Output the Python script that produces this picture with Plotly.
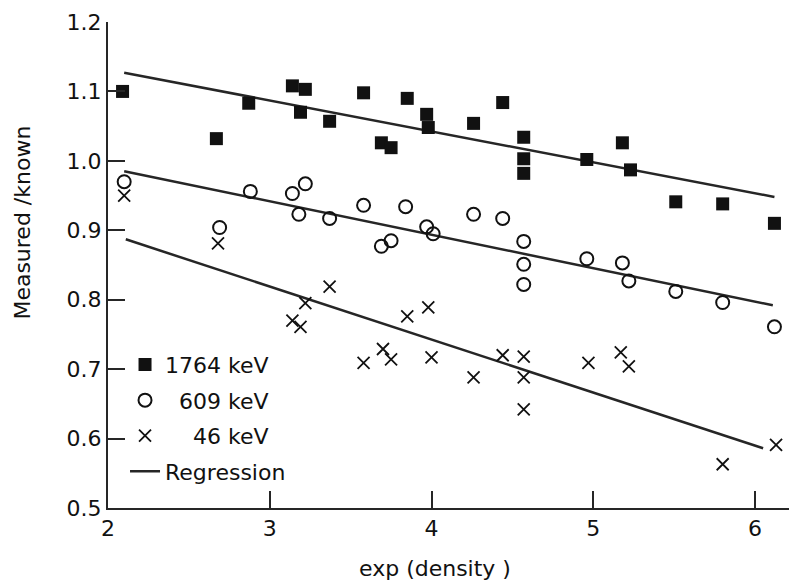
import plotly.graph_objects as go

# ---- data ----
x_1764 = [2.09, 2.67, 2.87, 3.14, 3.19, 3.22, 3.37, 3.58, 3.69, 3.75, 3.85, 3.97, 3.98,
          4.26, 4.44, 4.57, 4.57, 4.57, 4.96, 5.18, 5.23, 5.51, 5.80, 6.12]
y_1764 = [1.100, 1.032, 1.083, 1.108, 1.070, 1.103, 1.057, 1.098, 1.026, 1.019, 1.090, 1.067, 1.048,
          1.054, 1.084, 1.034, 1.003, 0.982, 1.002, 1.026, 0.987, 0.941, 0.938, 0.910]

x_609 = [2.10, 2.69, 2.88, 3.14, 3.18, 3.22, 3.37, 3.58, 3.69, 3.75, 3.84, 3.97, 4.01,
         4.26, 4.44, 4.57, 4.57, 4.57, 4.96, 5.18, 5.22, 5.51, 5.80, 6.12]
y_609 = [0.970, 0.904, 0.956, 0.953, 0.923, 0.967, 0.917, 0.936, 0.877, 0.885, 0.934, 0.905, 0.895,
         0.923, 0.917, 0.884, 0.851, 0.822, 0.859, 0.853, 0.827, 0.812, 0.796, 0.761]

x_46 = [2.10, 2.68, 3.14, 3.19, 3.22, 3.37, 3.58, 3.70, 3.75, 3.85, 3.98, 4.00,
        4.26, 4.44, 4.57, 4.57, 4.57, 4.97, 5.17, 5.22, 5.80, 6.13]
y_46 = [0.950, 0.881, 0.770, 0.761, 0.795, 0.819, 0.709, 0.729, 0.714, 0.776, 0.789, 0.717,
        0.688, 0.720, 0.718, 0.688, 0.642, 0.709, 0.724, 0.704, 0.563, 0.591]

# regression line end points
reg_1764_x = [2.10, 6.12]
reg_1764_y = [1.127, 0.948]
reg_609_x = [2.10, 6.11]
reg_609_y = [0.985, 0.792]
reg_46_x = [2.11, 6.05]
reg_46_y = [0.887, 0.586]

x_ticks = [2, 3, 4, 5, 6]
y_ticks = [0.5, 0.6, 0.7, 0.8, 0.9, 1.0, 1.1, 1.2]

FONT = "DejaVu Sans"
INK = "#111111"
LINE = "#262626"

fig = go.Figure()

for rx, ry in [(reg_1764_x, reg_1764_y), (reg_609_x, reg_609_y), (reg_46_x, reg_46_y)]:
    fig.add_trace(go.Scatter(x=rx, y=ry, mode="lines", line=dict(color=LINE, width=2.5),
                             showlegend=False, hoverinfo="skip"))

fig.add_trace(go.Scatter(x=x_1764, y=y_1764, mode="markers", name="1764 keV", legendgroup="a",
                         marker=dict(symbol="square", size=13, color=INK)))
fig.add_trace(go.Scatter(x=x_609, y=y_609, mode="markers", name="\u2007609 keV", legendgroup="b",
                         marker=dict(symbol="circle-open", size=13, color=INK,
                                     line=dict(width=2, color=INK))))
fig.add_trace(go.Scatter(x=x_46, y=y_46, mode="markers", name="\u2007\u200746 keV", legendgroup="c",
                         marker=dict(symbol="x-thin-open", size=12, color=INK,
                                     line=dict(width=1.8, color=INK))))
# legend entry for regression lines
fig.add_trace(go.Scatter(x=[None], y=[None], mode="lines", name="Regression", legendgroup="d",
                         line=dict(color=LINE, width=2.5)))

fig.update_layout(
    width=789, height=584,
    margin=dict(l=108, r=0, t=22, b=76),
    paper_bgcolor="white", plot_bgcolor="white",
    font=dict(family=FONT, size=22, color=INK),
    showlegend=True,
    legend=dict(x=0.025, xanchor="left", y=0.338, yanchor="top",
                bgcolor="rgba(0,0,0,0)", borderwidth=0,
                font=dict(family=FONT, size=22, color=INK),
                itemwidth=30, tracegroupgap=4),
    xaxis=dict(range=[2, 6.21], tickvals=x_ticks, ticktext=[str(v) for v in x_ticks],
               showgrid=False, zeroline=False, showline=True, linecolor=LINE, linewidth=2,
               ticks="inside", ticklen=17, tickwidth=1.8, tickcolor=LINE,
               tickfont=dict(family=FONT, size=22, color=INK)),
    yaxis=dict(range=[0.5, 1.2], tickvals=y_ticks, ticktext=["%.1f" % v for v in y_ticks],
               showgrid=False, zeroline=False, showline=True, linecolor=LINE, linewidth=2,
               ticks="inside", ticklen=17, tickwidth=1.8, tickcolor=LINE,
               tickfont=dict(family=FONT, size=22, color=INK)),
    annotations=[
        dict(text="Measured /known", xref="paper", yref="paper", x=-0.125, y=0.587,
             xanchor="center", yanchor="middle", textangle=-90, showarrow=False,
             font=dict(family=FONT, size=22, color=INK)),
        dict(text="exp (density )", xref="paper", yref="paper", x=0.48, y=-0.124,
             xanchor="center", yanchor="middle", showarrow=False,
             font=dict(family=FONT, size=22, color=INK)),
    ],
)

fig.write_html("out.html")
